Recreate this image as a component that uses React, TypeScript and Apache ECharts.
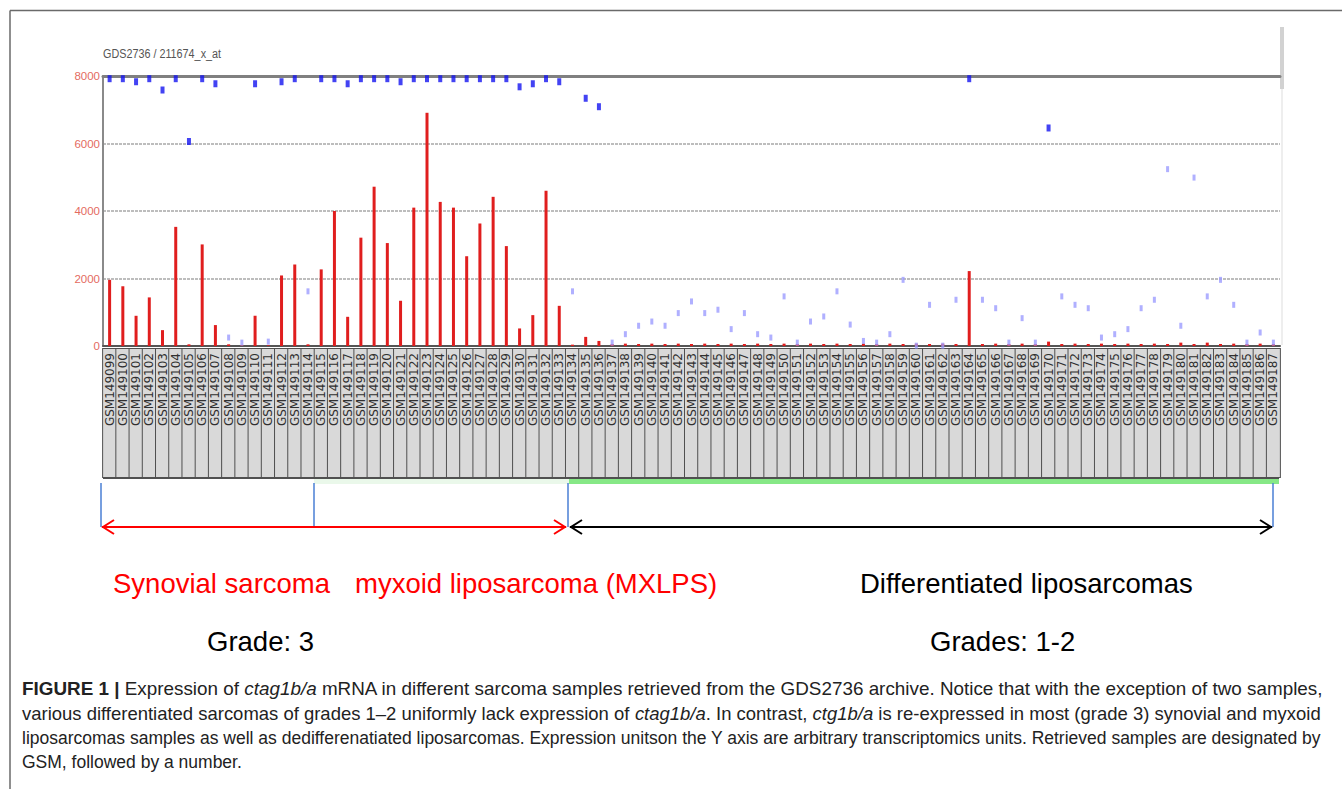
import React, { useEffect, useRef } from "react";
import * as echarts from "echarts";

const categories = [
  "GSM149099", "GSM149100", "GSM149101", "GSM149102", "GSM149103", "GSM149104", "GSM149105", "GSM149106",
  "GSM149107", "GSM149108", "GSM149109", "GSM149110", "GSM149111", "GSM149112", "GSM149113", "GSM149114",
  "GSM149115", "GSM149116", "GSM149117", "GSM149118", "GSM149119", "GSM149120", "GSM149121", "GSM149122",
  "GSM149123", "GSM149124", "GSM149125", "GSM149126", "GSM149127", "GSM149128", "GSM149129", "GSM149130",
  "GSM149131", "GSM149132", "GSM149133", "GSM149134", "GSM149135", "GSM149136", "GSM149137", "GSM149138",
  "GSM149139", "GSM149140", "GSM149141", "GSM149142", "GSM149143", "GSM149144", "GSM149145", "GSM149146",
  "GSM149147", "GSM149148", "GSM149149", "GSM149150", "GSM149151", "GSM149152", "GSM149153", "GSM149154",
  "GSM149155", "GSM149156", "GSM149157", "GSM149158", "GSM149159", "GSM149160", "GSM149161", "GSM149162",
  "GSM149163", "GSM149164", "GSM149165", "GSM149166", "GSM149167", "GSM149168", "GSM149169", "GSM149170",
  "GSM149171", "GSM149172", "GSM149173", "GSM149174", "GSM149175", "GSM149176", "GSM149177", "GSM149178",
  "GSM149179", "GSM149180", "GSM149181", "GSM149182", "GSM149183", "GSM149184", "GSM149185", "GSM149186",
  "GSM149187",
];

// red bars: expression value
const expressionValues = [
  1960, 1770, 895, 1440, 470, 3530, 50, 3010, 620, 50, 20, 895, 20, 2090, 2415, 50,
  2270, 4000, 865, 3210, 4720, 3050, 1340, 4100, 6910, 4270, 4100, 2660, 3630, 4420, 2960, 520,
  915, 4600, 1190, 40, 270, 150, 60, 70, 60, 70, 60, 70, 60, 70, 60, 70,
  60, 70, 60, 70, 60, 70, 60, 70, 60, 70, 60, 70, 60, 70, 60, 70,
  60, 2220, 60, 70, 60, 70, 60, 130, 60, 70, 60, 70, 60, 70, 60, 70,
  60, 100, 60, 100, 60, 70, 60, 70, 60,
];

// blue markers: rank values drawn on the same scale
const rankValues = [
  7920, 7920, 7830, 7920, 7585, 7920, 6060, 7920, 7770, 250, 100, 7770, 130, 7830, 7920, 1620,
  7920, 7920, 7770, 7920, 7920, 7920, 7830, 7920, 7920, 7920, 7920, 7920, 7920, 7920, 7920, 7680,
  7770, 7920, 7830, 1620, 7340, 7090, 100, 350, 600, 725, 600, 975, 1320, 975,
  1075, 500, 975, 350, 250, 1470, 100, 725, 875, 1620, 635, 150, 100, 350, 1960, 10,
  1220, 10, 1370, 7920, 1370, 1120, 100, 825, 100, 6460, 1470, 1220, 1120, 250, 350, 500,
  1120, 1370, 5240, 600, 4990, 1470, 1960, 1220, 100, 400, 100,
];

const yTicks = [0, 2000, 4000, 6000, 8000];

const SANS = "'Liberation Sans', Arial, sans-serif";

export default function App() {
  const ref = useRef<HTMLDivElement>(null);

  useEffect(() => {
    if (!ref.current) return;
    const chart = echarts.init(ref.current, undefined, { renderer: "svg" });

    const capStyle = {
      b: { fontWeight: "bold", fontSize: 17.5, fontFamily: SANS, color: "#222" },
      i: { fontStyle: "italic", fontSize: 17.5, fontFamily: SANS, color: "#222" },
    };
    const capText = (y: number, scaleX: number, text: string) => ({
      type: "text",
      x: 22,
      y,
      scaleX,
      style: {
        text,
        x: 0,
        y: 0,
        fontSize: 17.5,
        fontFamily: SANS,
        fill: "#222",
        verticalAlign: "middle",
        rich: capStyle,
      },
    });

    chart.setOption({
      animation: false,
      backgroundColor: "#fff",
      grid: { left: 103, right: 62, top: 76, bottom: 443, containLabel: false },
      xAxis: [
        {
          type: "category",
          data: categories,
          position: "bottom",
          axisLine: { show: true, lineStyle: { color: "#555", width: 2 } },
          axisTick: { show: false },
          axisLabel: {
            interval: 0,
            rotate: 90,
            margin: 3,
            fontSize: 12,
            fontFamily: "'DejaVu Sans', sans-serif",
            color: "#303030",
            backgroundColor: "#d9d9d9",
            borderColor: "#505050",
            borderWidth: 1,
            width: 120,
            overflow: "truncate",
            padding: [0.5, 4, 0.5, 4],
            lineHeight: 12,
            align: "right",
            verticalAlign: "middle",
          },
        },
        {
          type: "category",
          data: categories,
          position: "top",
          axisLine: { show: true, lineStyle: { color: "#808080", width: 3 } },
          axisTick: { show: false },
          axisLabel: { show: false },
        },
      ],
      yAxis: {
        type: "value",
        min: yTicks[0],
        max: yTicks[yTicks.length - 1],
        interval: 2000,
        axisLine: { show: true, lineStyle: { color: "#8a8a8a", width: 2 } },
        axisTick: { show: false },
        axisLabel: {
          margin: 3,
          fontSize: 11.5,
          color: "#e46b5f",
          fontFamily: SANS,
          formatter: (v: number) => String(v),
        },
        splitLine: { show: true, lineStyle: { color: "#bdbdbd", width: 2, type: [3, 1] } },
      },
      series: [
        {
          type: "bar",
          data: expressionValues,
          barWidth: 3,
          itemStyle: { color: "#e01e1e" },
          z: 2,
        },
        {
          type: "scatter",
          data: rankValues,
          symbol: "rect",
          symbolSize: (v: number) => (v > 5500 ? [4, 7] : [3, 6]),
          itemStyle: {
            color: (p: any) => (p.value > 5500 ? "#1414f0" : "#9c9cff"),
          },
          z: 3,
        },
      ],
      graphic: [
        // title
        {
          type: "text",
          x: 103,
          y: 54,
          scaleX: 0.8,
          style: { text: "GDS2736 / 211674_x_at", x: 0, y: 0, fontSize: 13.5, fontFamily: SANS, fill: "#555", verticalAlign: "middle" },
        },
        // figure frame
        { type: "line", shape: { x1: 10, y1: 10.5, x2: 1342, y2: 10.5 }, style: { stroke: "#6a6a6a", lineWidth: 1.5 } },
        { type: "line", shape: { x1: 10, y1: 10.5, x2: 10, y2: 789 }, style: { stroke: "#6a6a6a", lineWidth: 1.5 } },
        // scroll bar
        { type: "rect", shape: { x: 1280, y: 27, width: 4, height: 62 }, style: { fill: "#d2d2d2" } },
        { type: "line", shape: { x1: 1282, y1: 89, x2: 1282, y2: 345 }, style: { stroke: "#eeeeee", lineWidth: 2 } },
        // strip bottom and green group bar
        { type: "rect", shape: { x: 103, y: 477, width: 1176, height: 2 }, style: { fill: "#505050" } },
        { type: "rect", shape: { x: 314, y: 479, width: 256, height: 5 }, style: { fill: "#eaf8ea" } },
        { type: "rect", shape: { x: 569, y: 479, width: 710, height: 5 }, style: { fill: "#86e886" } },
        // blue separators
        { type: "line", shape: { x1: 101, y1: 483, x2: 101, y2: 527 }, style: { stroke: "#4a7fd4", lineWidth: 1.5 } },
        { type: "line", shape: { x1: 314, y1: 483, x2: 314, y2: 527 }, style: { stroke: "#4a7fd4", lineWidth: 1.5 } },
        { type: "line", shape: { x1: 568, y1: 483, x2: 568, y2: 527 }, style: { stroke: "#4a7fd4", lineWidth: 1.5 } },
        { type: "line", shape: { x1: 1273, y1: 483, x2: 1273, y2: 527 }, style: { stroke: "#4a7fd4", lineWidth: 1.5 } },
        // red arrow
        { type: "line", shape: { x1: 102, y1: 527, x2: 566, y2: 527 }, style: { stroke: "#ff0000", lineWidth: 2 } },
        { type: "polyline", shape: { points: [[114, 520], [103, 527], [114, 534]] }, style: { stroke: "#ff0000", lineWidth: 2, fill: null } },
        { type: "polyline", shape: { points: [[554, 520], [565, 527], [554, 534]] }, style: { stroke: "#ff0000", lineWidth: 2, fill: null } },
        // black arrow
        { type: "line", shape: { x1: 570, y1: 527, x2: 1272, y2: 527 }, style: { stroke: "#000", lineWidth: 2 } },
        { type: "polyline", shape: { points: [[582, 520], [571, 527], [582, 534]] }, style: { stroke: "#000", lineWidth: 2, fill: null } },
        { type: "polyline", shape: { points: [[1260, 520], [1271, 527], [1260, 534]] }, style: { stroke: "#000", lineWidth: 2, fill: null } },
        // group texts
        { type: "text", x: 113, y: 583, style: { text: "Synovial sarcoma", x: 0, y: 0, fontSize: 27.5, fontFamily: SANS, fill: "#ff0000", verticalAlign: "middle" } },
        { type: "text", x: 355, y: 583, style: { text: "myxoid liposarcoma (MXLPS)", x: 0, y: 0, fontSize: 27.5, fontFamily: SANS, fill: "#ff0000", verticalAlign: "middle" } },
        { type: "text", x: 860, y: 583, style: { text: "Differentiated liposarcomas", x: 0, y: 0, fontSize: 27.5, fontFamily: SANS, fill: "#000", verticalAlign: "middle" } },
        { type: "text", x: 207, y: 641, style: { text: "Grade: 3", x: 0, y: 0, fontSize: 27.5, fontFamily: SANS, fill: "#000", verticalAlign: "middle" } },
        { type: "text", x: 930, y: 641, style: { text: "Grades: 1-2", x: 0, y: 0, fontSize: 27.5, fontFamily: SANS, fill: "#000", verticalAlign: "middle" } },
        // caption (justified lines stretched to the text width)
        capText(689, 1.078, "{b|FIGURE 1 |} Expression of {i|ctag1b/a} mRNA in different sarcoma samples retrieved from the GDS2736 archive. Notice that with the exception of two samples,"),
        capText(714, 1.056, "various differentiated sarcomas of grades 1–2 uniformly lack expression of {i|ctag1b/a}. In contrast, {i|ctg1b/a} is re-expressed in most (grade 3) synovial and myxoid"),
        capText(738, 1.0, "liposarcomas samples as well as dedifferenatiated liposarcomas. Expression unitson the Y axis are arbitrary transcriptomics units. Retrieved samples are designated by"),
        capText(762, 1.0, "GSM, followed by a number."),
      ],
    });

    return () => chart.dispose();
  }, []);

  return (
    <div
      ref={ref}
      style={{ position: "absolute", left: 0, top: 0, width: 1342, height: 789, background: "#fff" }}
    />
  );
}
